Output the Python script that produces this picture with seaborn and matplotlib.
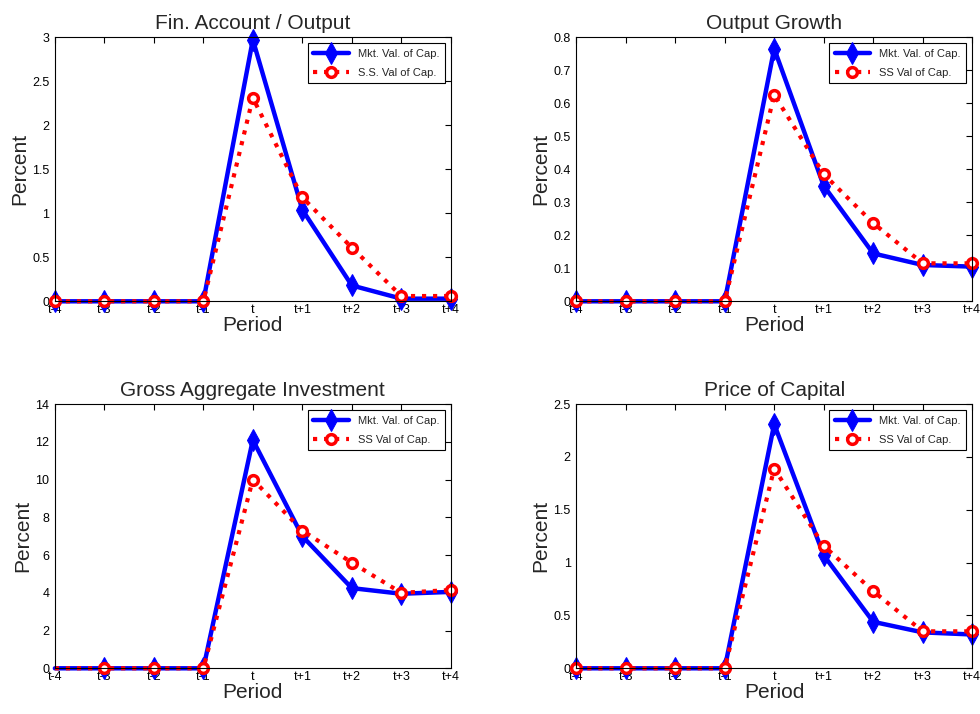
import numpy as np
import pandas as pd
import matplotlib
matplotlib.use("Agg")
import matplotlib.pyplot as plt
import seaborn as sns

sns.set_style("white")
plt.rcParams['font.family'] = ['Liberation Sans', 'DejaVu Sans']

periods = ['t-4', 't-3', 't-2', 't-1', 't', 't+1', 't+2', 't+3', 't+4']

titles = ['Fin. Account / Output', 'Output Growth',
          'Gross Aggregate Investment', 'Price of Capital']
ss_labels = ['S.S. Val of Cap.', 'SS Val of Cap.', 'SS Val of Cap.', 'SS Val of Cap.']

fin_mkt = [0, 0, 0, 0, 2.97, 1.04, 0.18, 0.03, 0.03]
fin_ss = [0, 0, 0, 0, 2.31, 1.18, 0.61, 0.06, 0.06]
growth_mkt = [0, 0, 0, 0, 0.765, 0.35, 0.145, 0.11, 0.105]
growth_ss = [0, 0, 0, 0, 0.625, 0.385, 0.237, 0.115, 0.115]
inv_mkt = [0, 0, 0, 0, 12.1, 7.0, 4.25, 3.95, 4.05]
inv_ss = [0, 0, 0, 0, 10.0, 7.3, 5.6, 4.0, 4.15]
price_mkt = [0, 0, 0, 0, 2.31, 1.07, 0.44, 0.34, 0.32]
price_ss = [0, 0, 0, 0, 1.89, 1.16, 0.73, 0.35, 0.35]

mkt_series = [fin_mkt, growth_mkt, inv_mkt, price_mkt]
ss_series = [fin_ss, growth_ss, inv_ss, price_ss]
ylims = [(0, 3), (0, 0.8), (0, 14), (0, 2.5)]
yticks = [np.arange(0, 3.01, 0.5), np.arange(0, 0.81, 0.1),
          np.arange(0, 14.1, 2), np.arange(0, 2.51, 0.5)]
# investment panel shows no markers at t-4
first_marker = [0, 0, 1, 0]

# axes rectangles (figure fraction)
rects = [[0.056, 0.578, 0.404, 0.370], [0.588, 0.578, 0.404, 0.370],
         [0.056, 0.064, 0.404, 0.370], [0.588, 0.064, 0.404, 0.370]]

fig = plt.figure(figsize=(9.8, 7.14), dpi=100)
x = np.arange(len(periods))

for i in range(4):
    ax = fig.add_axes(rects[i])
    mk = list(range(first_marker[i], len(periods)))
    sns.lineplot(x=x, y=mkt_series[i], ax=ax, color='blue', linewidth=3.2,
                 marker='d', markersize=11, markeredgecolor='blue', markevery=mk,
                 label='Mkt. Val. of Cap.')
    sns.lineplot(x=x, y=ss_series[i], ax=ax, color='red', linewidth=3,
                 linestyle=':', marker='o', markersize=7, markerfacecolor='white',
                 markeredgecolor='red', markeredgewidth=2.5, markevery=mk,
                 label=ss_labels[i])
    for ln in ax.lines:
        ln.set_clip_on(False)
    ax.set_xlim(0, 8)
    ax.set_ylim(*ylims[i])
    ax.set_xticks(x)
    ax.set_xticklabels(periods)
    ax.set_yticks(yticks[i])
    ax.set_yticklabels([f"{v:g}" for v in yticks[i]])
    ax.tick_params(direction='in', top=True, right=True, length=4, width=0.8,
                   labelsize=9, colors='black')
    ax.tick_params(axis='x', pad=2)
    ax.tick_params(axis='y', pad=4)
    for s in ax.spines.values():
        s.set_color('black')
        s.set_linewidth(0.8)
    ax.set_title(titles[i], fontsize=15, pad=6)
    ax.set_xlabel('Period', fontsize=15, labelpad=0)
    ax.set_ylabel('Percent', fontsize=15, labelpad=2)
    leg = ax.legend(loc='upper right', fontsize=8, fancybox=False, framealpha=1,
                    edgecolor='black', handlelength=3.2, borderaxespad=0.55,
                    labelspacing=0.8, borderpad=0.5)
    leg.get_frame().set_linewidth(0.8)

fig.savefig('out.png', dpi=100)
